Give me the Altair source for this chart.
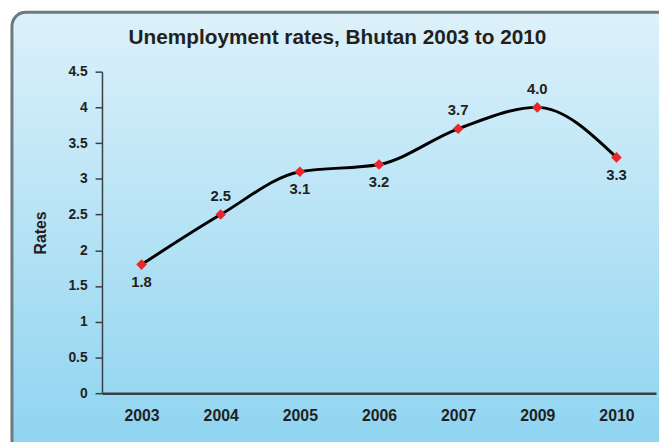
import altair as alt
import pandas as pd

years = ["2003", "2004", "2005", "2006", "2007", "2009", "2010"]
rates = [1.8, 2.5, 3.1, 3.2, 3.7, 4.0, 3.3]
labels = ["1.8", "2.5", "3.1", "3.2", "3.7", "4.0", "3.3"]
label_side = ["below", "above", "below", "below", "above", "above", "below"]
y_ticks = [0, 0.5, 1, 1.5, 2, 2.5, 3, 3.5, 4, 4.5]

df = pd.DataFrame({"year": years, "rate": rates, "label": labels, "side": label_side})

W, H = 560, 325
FONT = "Liberation Sans"
TXT = "#231f20"

x_enc = alt.X("year:N", sort=None, scale=alt.Scale(type="point", padding=0.5),
              axis=alt.Axis(title=None, ticks=False, labelFontSize=16, labelFontWeight="bold",
                            labelColor=TXT, labelPadding=15, labelAngle=0, domainColor="#3a3f42",
                            domainWidth=2.5, labelFont=FONT, zindex=2))
y_enc = alt.Y("rate:Q", scale=alt.Scale(domain=[0, 4.5], nice=False),
              axis=alt.Axis(title="Rates", values=y_ticks, format="~g", grid=False,
                            tickSize=7, tickColor="#3a3f42", tickWidth=1.5,
                            domainColor="#3a3f42", domainWidth=1.5,
                            labelFontSize=14, labelFontWeight="bold", labelColor=TXT,
                            labelPadding=8, labelFont=FONT,
                            titleFontSize=16, titleFontWeight="bold", titleColor=TXT,
                            titlePadding=20, titleFont=FONT, zindex=2))

frame = alt.Chart(pd.DataFrame({"k": [0]})).mark_rect(
    cornerRadius=14, stroke="#6a7a7f", strokeWidth=3,
    fill=alt.Gradient(gradient="linear", x1=0, x2=0, y1=0, y2=1,
                      stops=[alt.GradientStop(offset=0, color="#dcf1fa"),
                             alt.GradientStop(offset=1, color="#8cd3f0")])
).encode(x=alt.value(-91), x2=alt.value(W + 40), y=alt.value(-60), y2=alt.value(H + 70))

base = alt.Chart(df)
line = base.mark_line(color="black", strokeWidth=3, interpolate="monotone").encode(x=x_enc, y=y_enc)
pts = base.mark_point(shape="diamond", filled=True, color="#e8262b", size=115, opacity=1).encode(x=x_enc, y=y_enc)
txt_above = base.transform_filter(alt.datum.side == "above").mark_text(
    dy=-19, fontSize=15, fontWeight="bold", color=TXT, font=FONT).encode(x=x_enc, y=y_enc, text="label:N")
txt_below = base.transform_filter(alt.datum.side == "below").mark_text(
    dy=18, fontSize=15, fontWeight="bold", color=TXT, font=FONT).encode(x=x_enc, y=y_enc, text="label:N")

chart = alt.layer(frame, line, pts, txt_above, txt_below).properties(
    width=W, height=H,
    autosize=alt.AutoSizeParams(type="none"),
    padding={"left": 95, "top": 62, "right": 3, "bottom": 47},
    background="white",
    title=alt.TitleParams("Unemployment rates, Bhutan 2003 to 2010", fontSize=21, fontWeight="bold",
                          color=TXT, font=FONT, anchor="middle", dx=-42, offset=-38),
).configure_view(stroke="#e3f4fb", strokeWidth=1)

chart.save("out.html", embed_options={"renderer": "svg", "actions": False})
